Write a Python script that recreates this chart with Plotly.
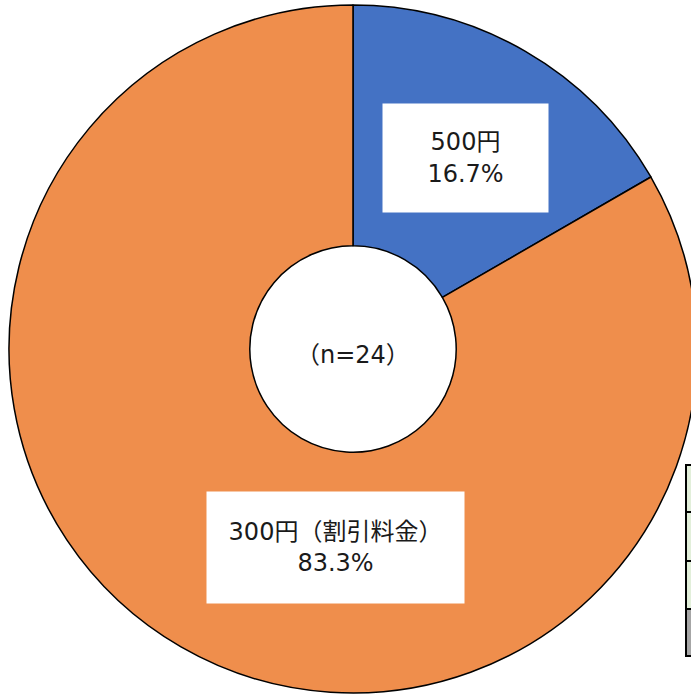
import plotly.graph_objects as go

# Figure slightly wider than the window so the donut's right edge is cut off
# as in the reference; page margins removed and overflow hidden via post_script.
W, H = 700, 695

labels = ["500円", "300円（割引料金）"]
counts = [4, 20]
percents = ["16.7%", "83.3%"]
colors = ["#4472C4", "#EF8E4C"]
center_text = "（n=24）"

table_fills = ["#E2EFDA", "#E2EFDA", "#E2EFDA", "#A6A6A6"]

FONT = "DejaVu Sans, Noto Sans CJK JP, sans-serif"

def px(x):
    return x / W

def py(y):
    return 1 - y / H

fig = go.Figure()
fig.add_trace(go.Pie(
    labels=labels,
    values=counts,
    hole=0.3,
    sort=False,
    direction="clockwise",
    rotation=0,
    marker=dict(colors=colors, line=dict(color="#000000", width=1.5)),
    textinfo="none",
    hoverinfo="label+percent",
    showlegend=False,
    domain=dict(x=[px(9), px(697)], y=[py(693), py(5)]),
))

# label boxes
boxes = [
    dict(cx=465, cy=158, w=165, h=108),
    dict(cx=335, cy=547, w=257, h=111),
]
for lab, pct, b in zip(labels, percents, boxes):
    fig.add_annotation(
        x=px(b["cx"]), y=py(b["cy"]), xref="paper", yref="paper",
        text=f"{lab}<br>{pct}", showarrow=False,
        width=b["w"], height=b["h"], bgcolor="#FFFFFF",
        align="center", valign="middle", borderpad=0,
        font=dict(family=FONT, size=24, color="#1A1A1A"),
        xanchor="center", yanchor="middle",
    )

fig.add_annotation(
    x=px(353), y=py(355), xref="paper", yref="paper",
    text=center_text, showarrow=False,
    font=dict(family=FONT, size=24, color="#1A1A1A"),
    xanchor="center", yanchor="middle",
)

# partially visible table at the right edge
row_edges = [465, 512, 561, 609, 656]
for i, fill in enumerate(table_fills):
    fig.add_shape(
        type="rect", xref="paper", yref="paper",
        x0=px(686), x1=px(730), y0=py(row_edges[i + 1]), y1=py(row_edges[i]),
        fillcolor=fill, line=dict(color="#000000", width=2),
    )

fig.update_layout(
    width=W, height=H,
    margin=dict(l=0, r=0, t=0, b=0),
    paper_bgcolor="#FFFFFF",
    plot_bgcolor="#FFFFFF",
)

fig.write_html(
    "out.html",
    config={"displayModeBar": False},
    post_script=(
        "document.documentElement.style.overflow='hidden';"
        "document.body.style.margin='0';"
        "document.body.style.overflow='hidden';"
    ),
)
